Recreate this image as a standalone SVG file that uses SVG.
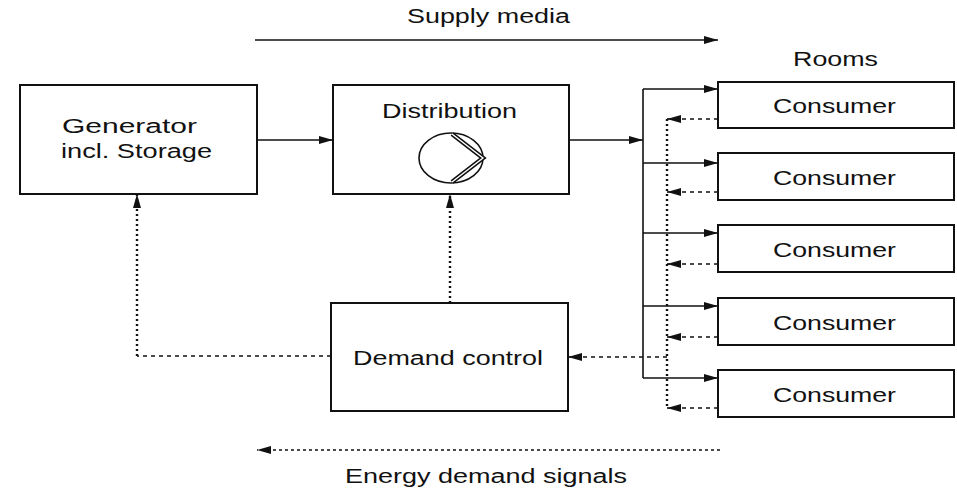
<svg xmlns="http://www.w3.org/2000/svg" width="957" height="489" viewBox="0 0 957 489">
<defs>
<style>
.box{fill:#fff;stroke:#111;stroke-width:2}
.t{font-family:"Liberation Sans",Arial,sans-serif;font-size:20px;fill:#111}
.solid{fill:none;stroke:#111;stroke-width:1.6}
.dot{fill:none;stroke:#111;stroke-width:2.4;stroke-dasharray:2 3}
.dash{fill:none;stroke:#111;stroke-width:1.6;stroke-dasharray:4 4}
.fdash{fill:none;stroke:#111;stroke-width:1.4;stroke-dasharray:3 3}
</style>
<marker id="ah" markerUnits="userSpaceOnUse" markerWidth="14" markerHeight="10" refX="14" refY="4" orient="auto" viewBox="0 0 14 8">
<path d="M0,0 L14,4 L0,8 z" fill="#111"/>
</marker>
</defs>
<rect width="957" height="489" fill="#fff"/>

<g id="connectors">
<path class="solid" d="M255,40 H718" marker-end="url(#ah)"/>
<path class="fdash" d="M720,450 H257" marker-end="url(#ah)"/>
<path class="solid" d="M257,140 H333" marker-end="url(#ah)"/>
<path class="solid" d="M569,140 H643" marker-end="url(#ah)"/>
<path class="solid" d="M643,89 V378"/>
<path class="solid" d="M643,89 H718" marker-end="url(#ah)"/>
<path class="solid" d="M643,163 H718" marker-end="url(#ah)"/>
<path class="solid" d="M643,233 H718" marker-end="url(#ah)"/>
<path class="solid" d="M643,306 H718" marker-end="url(#ah)"/>
<path class="solid" d="M643,378 H718" marker-end="url(#ah)"/>
<path class="dash" d="M718,119 H667" marker-end="url(#ah)"/>
<path class="dash" d="M718,192 H667" marker-end="url(#ah)"/>
<path class="dash" d="M718,264 H667" marker-end="url(#ah)"/>
<path class="dash" d="M718,337 H667" marker-end="url(#ah)"/>
<path class="dash" d="M718,408 H667" marker-end="url(#ah)"/>
<path class="dot" d="M667,119 V408"/>
<path class="dash" d="M667,357 H568" marker-end="url(#ah)"/>
<path class="dot" d="M450,303 V194" marker-end="url(#ah)"/>
<path class="dash" d="M331,356 H137"/>
<path class="dot" d="M137,356 V194" marker-end="url(#ah)"/>
</g>

<text class="t" x="407" y="23" textLength="163" lengthAdjust="spacingAndGlyphs">Supply media</text>
<text class="t" x="345" y="483" textLength="282" lengthAdjust="spacingAndGlyphs">Energy demand signals</text>
<text class="t" x="793" y="66" textLength="85" lengthAdjust="spacingAndGlyphs">Rooms</text>

<g id="generator">
<rect class="box" x="20" y="85" width="237" height="109"/>
<text class="t" x="62" y="133" textLength="135" lengthAdjust="spacingAndGlyphs">Generator</text>
<text class="t" x="61" y="158" textLength="151" lengthAdjust="spacingAndGlyphs">incl. Storage</text>
</g>

<g id="distribution">
<rect class="box" x="333" y="85" width="236" height="109"/>
<text class="t" x="382" y="118" textLength="135" lengthAdjust="spacingAndGlyphs">Distribution</text>
<ellipse cx="451" cy="158" rx="32" ry="25" fill="none" stroke="#111" stroke-width="1.6"/>
<polyline points="452,134 483,158 452,182" fill="none" stroke="#111" stroke-width="4.5" stroke-linejoin="miter"/>
<polyline points="452,134 483,158 452,182" fill="none" stroke="#fff" stroke-width="1.4"/>
</g>

<g id="demand-control">
<rect class="box" x="331" y="303" width="237" height="108"/>
<text class="t" x="353" y="365" textLength="190" lengthAdjust="spacingAndGlyphs">Demand control</text>
</g>

<g id="consumer1">
<rect class="box" x="718" y="82" width="236" height="46"/>
<text class="t" x="773" y="113" textLength="123" lengthAdjust="spacingAndGlyphs">Consumer</text>
</g>
<g id="consumer2">
<rect class="box" x="718" y="153" width="236" height="47"/>
<text class="t" x="773" y="185" textLength="123" lengthAdjust="spacingAndGlyphs">Consumer</text>
</g>
<g id="consumer3">
<rect class="box" x="718" y="225" width="236" height="47"/>
<text class="t" x="773" y="257" textLength="123" lengthAdjust="spacingAndGlyphs">Consumer</text>
</g>
<g id="consumer4">
<rect class="box" x="718" y="298" width="236" height="47"/>
<text class="t" x="773" y="330" textLength="123" lengthAdjust="spacingAndGlyphs">Consumer</text>
</g>
<g id="consumer5">
<rect class="box" x="718" y="370" width="236" height="47"/>
<text class="t" x="773" y="402" textLength="123" lengthAdjust="spacingAndGlyphs">Consumer</text>
</g>
</svg>
